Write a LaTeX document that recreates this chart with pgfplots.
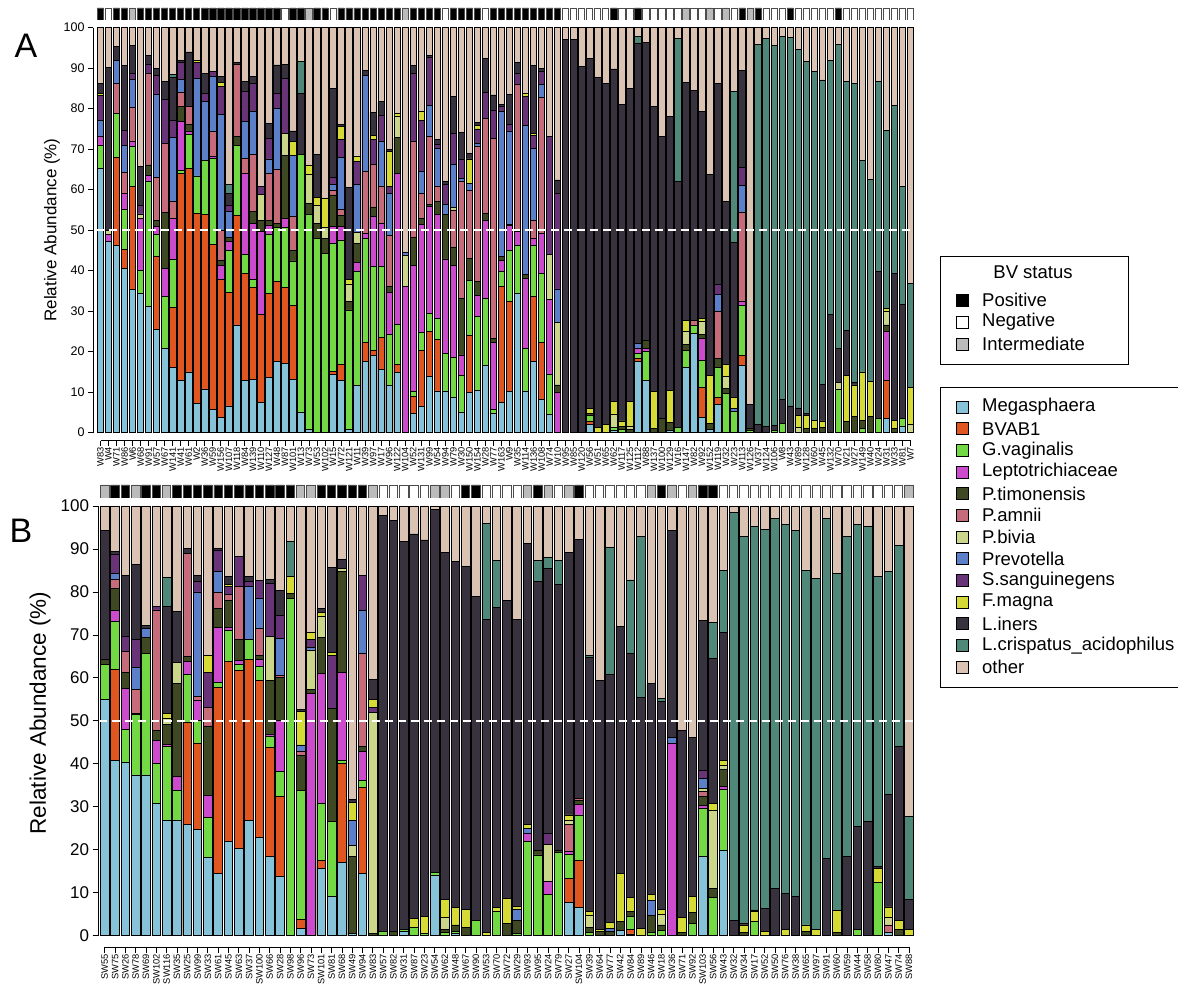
\documentclass[border=0pt]{standalone}
\usepackage{fontspec}
\setmainfont{Liberation Sans}
\usepackage{pgfplots}
\pgfplotsset{compat=1.18}
\definecolor{cMeg}{HTML}{86C3D8}
\definecolor{cBV}{HTML}{DF5620}
\definecolor{cGV}{HTML}{72D945}
\definecolor{cLep}{HTML}{CC4BCC}
\definecolor{cPtim}{HTML}{3E4923}
\definecolor{cPam}{HTML}{C66B7A}
\definecolor{cPbiv}{HTML}{CCD68B}
\definecolor{cPrev}{HTML}{5B80C9}
\definecolor{cSsang}{HTML}{693477}
\definecolor{cFmag}{HTML}{D6DA37}
\definecolor{cLin}{HTML}{38323F}
\definecolor{cLcris}{HTML}{4F8878}
\definecolor{cOther}{HTML}{DAC3B3}
\definecolor{cInt}{HTML}{BBBBBB}
\newcommand\fxA{\fontsize{9.3}{10}\selectfont}
\newcommand\fyA{\fontsize{12.5}{14}\selectfont}
\newcommand\fyB{\fontsize{17}{19}\selectfont}
\newcommand\flg{\fontsize{18.5}{21}\selectfont}
\pgfplotsset{
  bA/.style={ybar, bar width=6.5pt, bar shift=0pt, draw=black, line width=0.8pt, fill=#1},
  bB/.style={ybar, bar width=8.6pt, bar shift=0pt, draw=black, line width=0.8pt, fill=#1},
  sA/.style={ybar, bar width=6.3pt, bar shift=0pt, draw=black!70, line width=0.8pt, fill=#1},
  sB/.style={ybar, bar width=8.4pt, bar shift=0pt, draw=black!70, line width=0.8pt, fill=#1},
}
\begin{document}
\begin{tikzpicture}[x=1pt,y=1pt]
\useasboundingbox (0,0) rectangle (1178,987);
% ---------------- Panel A -----------------
\begin{axis}[
  at={(93pt,546.3pt)}, anchor=south west, scale only axis,
  width=821.5pt, height=413pt,
  xmin=0.065, xmax=102.5, ymin=-1.975, ymax=100,
  axis x line*=bottom, axis y line*=left,
  x axis line style={-, line width=0.8pt, shorten <=7.5pt, shorten >=4pt},
  y axis line style={-, line width=0.8pt, shorten <=8pt},
  tick align=outside, major tick length=5pt,
  every tick/.append style={line width=0.8pt, black},
  xtick={1,...,102},
  xticklabels={W83,W4,W71,W86,W6,W68,W91,W57,W67,W141,W41,W61,W2,W36,W59,W156,W107,W118,W84,W139,W110,W127,W48,W87,W101,W13,W73,W53,W102,W15,W72,W121,W11,W39,W97,W17,W96,W122,W104,W52,W131,W99,W54,W94,W79,W30,W150,W154,W28,W77,W163,W9,W35,W114,W136,W108,W74,W10,W95,W85,W120,W56,W51,W65,W62,W117,W125,W112,W88,W137,W100,W129,W16,W147,W82,W92,W152,W119,W32,W23,W113,W126,W37,W124,W106,W8,W43,W89,W128,W60,W45,W132,W70,W21,W27,W149,W40,W24,W31,W33,W81,W7},
  xticklabel style={font=\fxA, rotate=90, anchor=east, inner sep=1pt},
  ytick={0,10,...,100},
  yticklabel style={font=\fyA},
  /pgf/number format/assume math mode=true,
  scaled ticks=false,
]
\addplot[bA=cOther] coordinates {(1,100)(2,100)(3,100)(4,100)(5,100)(6,100)(7,100)(8,100)(9,100)(10,100)(11,100)(12,100)(13,100)(14,100)(15,100)(16,100)(17,100)(18,100)(19,100)(20,100)(21,100)(22,100)(23,100)(24,100)(25,100)(26,100)(27,100)(28,100)(29,100)(30,100)(31,100)(32,100)(33,100)(34,100)(35,100)(36,100)(37,100)(38,100)(39,100)(40,100)(41,100)(42,100)(43,100)(44,100)(45,100)(46,100)(47,100)(48,100)(49,100)(50,100)(51,100)(52,100)(53,100)(54,100)(55,100)(56,100)(57,100)(58,100)(59,100)(60,100)(61,100)(62,100)(63,100)(64,100)(65,100)(66,100)(67,100)(68,100)(69,100)(70,100)(71,100)(72,100)(73,100)(74,100)(75,100)(76,100)(77,100)(78,100)(79,100)(80,100)(81,100)(82,100)(83,100)(84,100)(85,100)(86,100)(87,100)(88,100)(89,100)(90,100)(91,100)(92,100)(93,100)(94,100)(95,100)(96,100)(97,100)(98,100)(99,100)(100,100)(101,100)(102,100)};
\addplot[bA=cLcris] coordinates {(10,88.5)(17,61.3)(26,91.6)(68,97.8)(73,97.4)(80,84.2)(83,95.9)(84,97.4)(85,95.6)(86,97.8)(87,97.5)(88,94.7)(89,91.6)(90,89.3)(91,87.1)(92,91.8)(93,95.9)(94,86.7)(95,86.3)(96,67.3)(97,62.6)(98,86.8)(99,74.7)(100,80.9)(101,60.7)(102,36.9)};
\addplot[bA=cLin] coordinates {(1,86.3)(2,90.1)(3,95.3)(4,90.6)(5,95.6)(6,65.8)(7,93.1)(8,90)(9,86.7)(10,87.7)(11,92)(12,94)(14,88.7)(16,88)(17,59.1)(18,91.4)(19,86.8)(20,88)(22,76.4)(23,90.8)(24,91)(25,74.5)(26,83.8)(28,68.7)(30,85)(31,76.2)(32,60.5)(34,89.5)(35,79.1)(36,81.7)(37,70)(40,90.6)(42,93.2)(43,72.5)(44,62.1)(45,83)(46,74.1)(47,69)(48,76.5)(49,92.4)(50,83.4)(51,81.1)(52,83.5)(53,91.4)(55,90.6)(56,90)(58,62.4)(59,97.1)(60,97.2)(61,90.4)(62,92.4)(63,87.7)(64,86.3)(65,89.8)(66,81.1)(67,84.9)(68,96.1)(69,96.4)(70,80.5)(71,73.1)(72,78)(73,62.1)(74,86.5)(75,84.6)(76,79.3)(77,63.8)(78,86.3)(79,57)(80,47)(81,89.5)(82,7)(83,2)(84,1.5)(85,1.7)(86,8.3)(87,6.6)(88,6.1)(89,4.8)(91,11.9)(92,29.2)(93,20.9)(94,25.2)(95,12.3)(98,39.8)(100,39.3)(101,31.7)};
\addplot[bA=cFmag] coordinates {(1,83.8)(13,91.9)(16,86.5)(25,72)(27,65.9)(28,58)(29,57.9)(31,75.6)(32,37.9)(33,68.1)(35,73.3)(37,69.5)(38,78.8)(41,79.4)(47,67.6)(48,75.8)(54,83.8)(55,73.9)(62,6)(63,1.2)(64,2)(65,7.8)(66,2.9)(67,7.8)(70,10.1)(72,10.5)(74,27.8)(76,28.2)(77,14.2)(79,16.9)(80,8.6)(88,4.2)(89,4.3)(90,3)(91,2.9)(94,14.2)(95,11.8)(96,15)(97,12.6)(99,30.6)(100,3)(102,11.1)};
\addplot[bA=cSsang] coordinates {(1,83.2)(4,74.6)(5,88.7)(6,56)(7,91)(8,88.3)(9,82.3)(10,77.2)(11,91.4)(13,91.4)(14,83.8)(15,89.1)(16,85.4)(17,56.2)(19,84.2)(20,86.2)(21,60.7)(22,72.7)(23,83.8)(24,87.5)(30,63)(31,72.3)(33,66.9)(35,72.3)(36,78.4)(37,60.7)(40,88.7)(41,77)(42,92.6)(43,71.2)(44,61.2)(45,73.9)(46,67.6)(48,75)(49,84)(50,79.7)(51,80.5)(52,76)(53,88.7)(54,83)(55,73.3)(56,89.3)(57,73.1)(58,59.1)(78,36.6)(81,65.4)};
\addplot[bA=cPrev] coordinates {(1,77)(3,92)(4,70.9)(5,87.3)(8,83.5)(10,72.9)(11,87.3)(13,87.5)(14,81.7)(15,87.9)(16,78.6)(17,54.7)(19,76.8)(20,79.3)(22,67.6)(23,80.1)(25,68.4)(30,61.3)(31,68)(33,61.3)(34,88.3)(36,72)(37,59.1)(39,44.5)(41,64.4)(42,80.9)(43,70.2)(44,56.4)(45,66.3)(46,62.7)(47,61.6)(48,71.4)(51,79.3)(52,74.5)(54,75.8)(55,70.2)(56,86)(58,35.5)(68,22)(78,34.2)(80,6)(81,61)};
\addplot[bA=cPbiv] coordinates {(2,50)(6,54)(21,58.8)(24,73.9)(27,63.8)(28,56)(29,50.6)(32,36.5)(33,49.5)(38,78)(39,43.7)(45,55.6)(57,44)(58,27.2)(65,4.5)(67,1.5)(74,24.9)(76,27.6)(79,13.8)(88,1.2)(93,12.3)(99,30)(102,2)};
\addplot[bA=cPam] coordinates {(3,86.2)(4,64.3)(5,80.2)(7,88.7)(8,63)(9,71.4)(10,57)(11,84)(12,80.5)(15,74.3)(16,50)(18,91)(19,67.7)(20,68.7)(22,64)(23,65)(25,53.3)(30,59.9)(31,55.2)(34,64.4)(35,66.3)(36,60.9)(37,48.6)(40,71.9)(41,59.1)(42,73.1)(43,60.7)(45,55)(46,62.1)(47,59.9)(48,70.6)(49,77.6)(50,72.7)(53,86)(55,52.3)(56,82.7)(75,27.8)(78,30)(81,54.4)};
\addplot[bA=cPtim] coordinates {(7,66.1)(8,52.5)(9,54.4)(11,80.5)(12,76)(16,42.6)(17,48.1)(18,73.1)(20,54.7)(21,52.3)(22,52.3)(23,51.7)(24,68.4)(25,44.9)(27,56.5)(28,51.7)(29,48)(30,58.7)(31,53.7)(32,32.5)(33,46.7)(35,55.6)(37,36)(38,72.8)(40,48.1)(41,52.9)(42,56.4)(43,57)(44,53.9)(45,45.7)(46,33.2)(47,43)(48,37.4)(49,54.2)(50,23.3)(51,43.5)(52,51.5)(54,39.1)(58,11.8)(62,4.7)(66,1.5)(67,0.8)(69,22.9)(70,1)(71,3.5)(72,2.5)(74,21.8)(76,24.2)(77,2.3)(78,18.4)(79,10.9)(82,1)(89,1)(90,1)(91,1.2)(94,2.7)(95,4)(96,3)(97,4)(99,26.6)(100,1)};
\addplot[bA=cLep] coordinates {(1,73.1)(2,49)(4,59.1)(5,71.9)(6,52.9)(7,63.5)(8,50.9)(9,40.6)(10,52.9)(11,76.8)(12,74.5)(15,68.2)(16,41.4)(17,47.2)(19,64)(20,51.7)(21,49.6)(22,51.3)(24,52.9)(30,50.9)(31,50.9)(33,42.1)(34,49.2)(35,53.3)(36,51.7)(37,34.7)(38,64)(39,36)(40,41.4)(41,51.4)(42,55.8)(43,53.9)(44,42.9)(45,41.2)(46,19.2)(48,33.8)(49,52.3)(50,22.3)(51,42.6)(52,51.1)(53,49.6)(54,38.1)(55,48)(56,49.2)(57,32.8)(58,10)(68,20.8)(69,20.8)(76,23.3)(81,32.3)(99,24.9)};
\addplot[bA=cGV] coordinates {(1,70.9)(3,78.8)(4,55.2)(5,70.6)(6,40)(7,62)(8,49)(9,33.6)(10,42.8)(11,64.7)(12,73.7)(13,63.4)(14,67.3)(15,67.7)(17,45.1)(18,70.9)(19,43.9)(20,37.9)(22,49)(23,50.6)(24,50.6)(25,42.4)(26,68.8)(27,53.9)(28,48)(29,44.3)(30,46.7)(31,47.6)(32,30.3)(33,39.8)(34,48)(35,41)(36,41)(37,24.3)(38,26.7)(40,10.1)(41,24.8)(42,29.5)(43,28.1)(44,19.6)(45,18.5)(46,14.2)(47,37.7)(48,28.6)(49,33.2)(50,5.8)(51,39.9)(52,44.9)(53,46.3)(54,20.8)(55,46.3)(56,39.3)(57,14.4)(62,4.2)(65,1.2)(66,0.8)(68,19.6)(69,20)(73,1.2)(74,20.4)(75,26.4)(76,17.9)(78,16)(79,9.7)(80,5.3)(81,31.4)(82,0.5)(85,0.5)(86,2.3)(93,10.7)(96,1)(98,3.5)(101,3.6)};
\addplot[bA=cBV] coordinates {(3,68)(4,45.3)(5,60.7)(8,43.5)(10,30.9)(11,63.9)(12,65.3)(13,54.2)(14,53.9)(15,46.5)(16,37.9)(17,34.7)(18,53.6)(19,39.3)(20,35.8)(21,29.2)(22,34.4)(23,37.3)(24,35.8)(25,31.4)(30,15.2)(31,16.9)(34,22.3)(35,20.4)(36,23.5)(38,16.9)(40,8.9)(41,20.4)(42,24.9)(43,23.1)(47,24.1)(51,36)(52,32.5)(55,33.6)(56,22.3)(62,2.9)(68,18.4)(76,11.1)(78,8.6)(81,19)(99,12.8)};
\addplot[bA=cMeg] coordinates {(1,65.3)(2,47.3)(3,46.2)(4,40.6)(5,35.4)(6,34.3)(7,31.1)(8,25.6)(9,20.8)(10,16)(11,13)(12,15)(13,7.2)(14,10.8)(15,5.8)(16,3.7)(17,6.6)(18,26.6)(19,13)(20,13.2)(21,7.4)(22,13.7)(23,17.5)(24,17.1)(25,13.2)(26,5)(27,0.9)(30,14.4)(31,13)(32,0.9)(33,11.6)(34,17.7)(35,19)(36,15.7)(37,11.6)(38,14.9)(40,4.8)(41,6.4)(42,13.8)(43,10.3)(44,10.3)(45,8.6)(46,5)(47,9.9)(48,10.5)(49,16.5)(50,4.8)(51,7.5)(52,10.1)(53,34.4)(54,10.3)(55,17.7)(56,8.3)(57,4.5)(62,2)(65,0.5)(68,17.7)(69,12.8)(72,0.5)(74,16)(75,24.5)(76,3.7)(77,0.9)(78,7)(81,16.5)(99,3.5)(101,1.6)};
\addplot[white, mark=none, line width=1.4pt, dash pattern=on 8pt off 5pt] coordinates {(0.5,50) (102.5,50)};
\end{axis}
% status A
\begin{axis}[at={(93pt,967pt)}, anchor=south west, scale only axis, width=821.5pt, height=12pt,
  xmin=0.065, xmax=102.5, ymin=0, ymax=1, hide axis]
\addplot[sA=black] coordinates {(1,1)(3,1)(4,1)(6,1)(7,1)(8,1)(9,1)(10,1)(11,1)(12,1)(13,1)(14,1)(15,1)(16,1)(17,1)(18,1)(19,1)(20,1)(21,1)(22,1)(23,1)(25,1)(26,1)(28,1)(29,1)(31,1)(32,1)(33,1)(34,1)(35,1)(36,1)(37,1)(38,1)(40,1)(41,1)(42,1)(43,1)(45,1)(46,1)(47,1)(48,1)(50,1)(51,1)(52,1)(53,1)(54,1)(55,1)(56,1)(57,1)(58,1)(65,1)(68,1)(81,1)(83,1)(87,1)(93,1)};
\addplot[sA=white] coordinates {(2,1)(24,1)(30,1)(44,1)(49,1)(59,1)(60,1)(61,1)(62,1)(63,1)(64,1)(66,1)(67,1)(69,1)(70,1)(71,1)(72,1)(73,1)(75,1)(76,1)(78,1)(80,1)(84,1)(85,1)(86,1)(88,1)(89,1)(90,1)(91,1)(92,1)(94,1)(95,1)(96,1)(97,1)(98,1)(99,1)(100,1)(101,1)(102,1)};
\addplot[sA=cInt] coordinates {(5,1)(27,1)(39,1)(74,1)(77,1)(79,1)(82,1)};
\end{axis}
% ---------------- Panel B -----------------
\begin{axis}[
  at={(98.6pt,40pt)}, anchor=south west, scale only axis,
  width=815.5pt, height=441pt,
  xmin=0.4, xmax=79.5, ymin=-2.63, ymax=100,
  axis x line*=bottom, axis y line*=left,
  x axis line style={-, line width=0.8pt, shorten <=6.2pt, shorten >=5.1pt},
  y axis line style={-, line width=0.8pt, shorten <=11.3pt},
  tick align=outside, major tick length=6pt,
  every tick/.append style={line width=0.8pt, black},
  xtick={1,...,79},
  xticklabels={SW55,SW75,SW26,SW78,SW69,SW102,SW116,SW35,SW25,SW99,SW33,SW61,SW45,SW63,SW37,SW100,SW66,SW28,SW98,SW96,SW73,SW101,SW81,SW68,SW49,SW94,SW83,SW57,SW82,SW31,SW87,SW23,SW54,SW62,SW48,SW67,SW90,SW53,SW70,SW72,SW29,SW93,SW95,SW24,SW79,SW27,SW104,SW39,SW64,SW77,SW42,SW84,SW89,SW46,SW18,SW36,SW71,SW92,SW103,SW56,SW43,SW32,SW34,SW17,SW52,SW50,SW76,SW38,SW65,SW97,SW91,SW60,SW59,SW44,SW58,SW80,SW47,SW74,SW88},
  xticklabel style={font=\fxA, rotate=90, anchor=east, inner sep=1pt},
  ytick={0,10,...,100},
  yticklabel style={font=\fyB},
  /pgf/number format/assume math mode=true,
  scaled ticks=false,
]
\addplot[bB=cOther] coordinates {(1,100)(2,100)(3,100)(4,100)(5,100)(6,100)(7,100)(8,100)(9,100)(10,100)(11,100)(12,100)(13,100)(14,100)(15,100)(16,100)(17,100)(18,100)(19,100)(20,100)(21,100)(22,100)(23,100)(24,100)(25,100)(26,100)(27,100)(28,100)(29,100)(30,100)(31,100)(32,100)(33,100)(34,100)(35,100)(36,100)(37,100)(38,100)(39,100)(40,100)(41,100)(42,100)(43,100)(44,100)(45,100)(46,100)(47,100)(48,100)(49,100)(50,100)(51,100)(52,100)(53,100)(54,100)(55,100)(56,100)(57,100)(58,100)(59,100)(60,100)(61,100)(62,100)(63,100)(64,100)(65,100)(66,100)(67,100)(68,100)(69,100)(70,100)(71,100)(72,100)(73,100)(74,100)(75,100)(76,100)(77,100)(78,100)(79,100)};
\addplot[bB=cLcris] coordinates {(7,83.4)(19,91.7)(38,96)(39,87.3)(43,87.4)(44,88)(45,87.4)(48,65.3)(50,90.4)(52,82.8)(53,93)(55,55.2)(60,72.8)(61,85.1)(62,98.4)(63,92.9)(64,95.2)(65,94.6)(66,97.1)(67,95.6)(68,94.4)(69,84.9)(70,83.2)(71,97.1)(72,84.3)(73,93)(74,95.6)(75,95.3)(76,83.7)(77,84.7)(78,90.9)(79,27.8)};
\addplot[bB=cLin] coordinates {(1,94.3)(2,89.4)(3,83.9)(4,86.5)(5,72.1)(7,76.6)(8,75.4)(9,90.1)(10,83.9)(12,90.1)(13,83.7)(15,83.7)(17,82.9)(18,80.3)(20,52.7)(22,76.2)(23,85.7)(24,87.6)(25,31.7)(27,59.7)(28,97.9)(29,96.6)(30,91.7)(31,93.5)(32,92.1)(33,99.1)(34,89.1)(35,87)(36,86)(37,79)(38,73.5)(39,76.4)(40,78)(41,73.6)(42,91.2)(43,82.4)(44,85.5)(45,81.8)(46,89.1)(47,92.2)(48,64.8)(49,59.3)(50,60.9)(51,71.9)(52,65.6)(53,55.5)(54,58.6)(55,54.5)(56,94.4)(57,47.7)(58,46.2)(59,73.3)(60,64.5)(61,70.5)(62,3.6)(63,2.8)(64,6)(65,6.4)(66,11)(67,9.9)(68,9.2)(71,18)(73,18.5)(74,25.4)(75,26.5)(76,16.2)(77,32.9)(78,44)(79,8.4)};
\addplot[bB=cFmag] coordinates {(7,51.7)(11,65.3)(13,81.8)(19,83.6)(20,52.1)(21,70.5)(22,75.2)(23,65.9)(25,31)(27,55)(31,4)(32,4.4)(34,8.5)(35,6.6)(36,6.1)(38,0.8)(39,6.6)(40,8.7)(41,6.9)(42,25.8)(46,28.1)(48,5.6)(49,1.4)(50,3)(51,14.4)(52,8.9)(53,1.7)(54,9.7)(55,6.1)(57,4.3)(58,9.2)(60,30.8)(61,40.8)(63,2.5)(64,5.6)(65,1)(67,1.5)(69,2.5)(70,1.5)(72,5.8)(76,15.6)(77,6.7)(78,3.5)(79,1.5)};
\addplot[bB=cSsang] coordinates {(2,88.8)(3,69.7)(4,69)(6,76.7)(10,82.4)(11,61.2)(12,89.6)(13,81.2)(14,88.2)(15,82.4)(16,82.6)(17,82)(18,74.6)(21,69)(23,65.3)(26,83.9)(27,53.1)(44,23.7)(59,38.4)};
\addplot[bB=cPrev] coordinates {(2,84.2)(4,62.5)(5,71.5)(10,80)(12,84.7)(15,81.2)(16,78.5)(18,69.2)(20,44.4)(21,67)(25,26.8)(26,75.6)(41,6.1)(42,25)(50,1.6)(54,8.1)(56,46.2)(59,36.6)};
\addplot[bB=cPbiv] coordinates {(7,50.6)(8,63.5)(17,69.7)(21,66.5)(22,74.4)(24,85.5)(25,20.9)(27,51.9)(34,4.3)(44,21.3)(46,26.8)(48,4.8)(55,5)(59,34.3)(60,29.2)(61,39.6)(77,4.2)};
\addplot[bB=cPam] coordinates {(2,82.9)(3,66.1)(4,57.3)(6,75.8)(9,89)(10,55.6)(11,53.1)(12,79.8)(13,79.5)(14,81.2)(16,71.5)(18,60.6)(20,42.8)(26,65.7)(46,25.8)(47,32)(59,33.5)(77,2.5)};
\addplot[bB=cPtim] coordinates {(1,64.2)(2,80.8)(3,61.2)(4,51.8)(5,69.4)(6,47.7)(7,49.2)(8,58.6)(9,64.9)(11,48.8)(12,76.2)(13,78)(14,69)(16,65.3)(17,59.3)(18,60.1)(19,79.7)(20,42)(21,57.3)(22,69.4)(23,52.9)(24,84.7)(25,18.5)(26,44.1)(27,0.5)(29,1)(34,1.5)(35,2.5)(36,2)(40,2.9)(41,3.5)(43,19.8)(45,19.8)(47,31.4)(48,2)(49,1)(50,1)(51,3.3)(52,5.6)(54,4.8)(55,2.5)(57,0.8)(58,5.4)(59,32.5)(60,11)(61,38.6)(63,0.8)(69,1)(72,0.8)(78,1.5)};
\addplot[bB=cLep] coordinates {(2,75.6)(3,57.6)(6,45.4)(7,44.6)(8,37)(9,63.8)(10,54.8)(11,32.7)(12,71.8)(13,71.8)(14,64)(16,64.3)(17,46.9)(18,50)(21,56.4)(22,61.1)(24,61.2)(26,42.8)(42,23.8)(44,12.6)(46,19.6)(47,30.6)(56,44.8)(59,30.4)(61,34.8)};
\addplot[bB=cGV] coordinates {(1,63.2)(2,73.1)(3,48)(4,51.4)(5,65.7)(6,40)(7,44)(8,33.9)(9,60.7)(10,50)(11,27.5)(12,58.9)(13,71.1)(14,63.2)(15,69)(16,62.6)(17,46.3)(18,38.3)(19,78.5)(20,33.9)(22,30.8)(23,26.5)(24,40.7)(26,36.1)(28,1)(30,1.5)(31,2)(32,0.5)(33,14.7)(34,0.8)(35,1)(37,3.5)(39,5.6)(41,0.6)(42,21.9)(43,18.8)(44,9.5)(45,19.3)(46,19)(47,28.1)(48,0.8)(52,4.4)(54,0.8)(55,1.3)(58,2.9)(59,29.6)(60,8.8)(61,34.1)(64,3.3)(74,1.5)(76,12.4)};
\addplot[bB=cBV] coordinates {(2,62)(9,49.6)(10,44.8)(12,57.8)(13,63.8)(14,61.8)(15,64.3)(16,59.3)(17,43.8)(18,32.4)(20,3.8)(22,17.6)(24,40)(26,34.5)(46,13.3)(47,17.5)(52,1.5)};
\addplot[bB=cMeg] coordinates {(1,55)(2,40.7)(3,40.3)(4,37.4)(5,37.4)(6,30.8)(7,26.9)(8,26.8)(9,25.8)(10,24.7)(11,18.2)(12,14.5)(13,22)(14,20.3)(15,26.9)(16,22.8)(17,18.4)(18,13.7)(20,1.7)(22,15.7)(23,9.1)(24,17)(25,0.5)(26,14.5)(30,1)(33,14.1)(35,0.5)(46,7.7)(47,6.6)(51,1.2)(52,0.4)(59,18.4)(61,19.8)(77,0.8)};
\addplot[white, mark=none, line width=1.4pt, dash pattern=on 8pt off 5pt] coordinates {(0.4,50) (79.5,50)};
\end{axis}
% status B
\begin{axis}[at={(98.6pt,489pt)}, anchor=south west, scale only axis, width=815.5pt, height=13pt,
  xmin=0.4, xmax=79.5, ymin=0, ymax=1, hide axis]
\addplot[sB=black] coordinates {(2,1)(3,1)(5,1)(6,1)(8,1)(9,1)(10,1)(11,1)(12,1)(13,1)(14,1)(15,1)(16,1)(17,1)(18,1)(19,1)(22,1)(23,1)(24,1)(25,1)(26,1)(36,1)(37,1)(43,1)(47,1)(55,1)(59,1)(60,1)};
\addplot[sB=white] coordinates {(28,1)(29,1)(30,1)(31,1)(32,1)(35,1)(38,1)(39,1)(40,1)(41,1)(45,1)(48,1)(49,1)(50,1)(51,1)(52,1)(53,1)(57,1)(61,1)(62,1)(63,1)(64,1)(65,1)(66,1)(67,1)(68,1)(69,1)(70,1)(71,1)(72,1)(73,1)(74,1)(75,1)(76,1)(77,1)(78,1)};
\addplot[sB=cInt] coordinates {(1,1)(4,1)(7,1)(20,1)(21,1)(27,1)(33,1)(34,1)(42,1)(44,1)(46,1)(54,1)(56,1)(58,1)(79,1)};
\end{axis}
% ---------------- labels -----------------
\node[font=\fontsize{34}{38}\selectfont] at (26,941) {A};
\node[font=\fontsize{34}{38}\selectfont] at (21,456) {B};
\node[rotate=90, font=\fontsize{17}{20}\selectfont] at (52,757) {Relative Abundance (\%)};
\node[rotate=90, font=\fontsize{22.5}{26}\selectfont] at (40,274) {Relative Abundance (\%)};
% ---------------- BV status legend -----------------
\draw[line width=1pt] (940,622) rectangle (1128,730);
\node[font=\flg] at (1033,715) {BV status};
\draw[fill=black, line width=0.8pt] (956,681) rectangle (968,693);
\node[font=\flg, anchor=west, inner sep=0pt] at (982,687) {Positive};
\draw[fill=white, line width=0.8pt] (956,659) rectangle (968,671);
\node[font=\flg, anchor=west, inner sep=0pt] at (982,665) {Negative};
\draw[fill=cInt, line width=0.8pt] (956,637) rectangle (968,649);
\node[font=\flg, anchor=west, inner sep=0pt] at (982,643) {Intermediate};
% ---------------- species legend -----------------
\draw[line width=1pt] (940,299) rectangle (1200,599);
\foreach \c/\t [count=\i from 0] in {cMeg/Megasphaera,cBV/BVAB1,cGV/G.vaginalis,cLep/Leptotrichiaceae,cPtim/P.timonensis,cPam/P.amnii,cPbiv/P.bivia,cPrev/Prevotella,cSsang/S.sanguinegens,cFmag/F.magna,cLin/L.iners,cLcris/L.crispatus\_acidophilus,cOther/other}{
  \pgfmathsetmacro\yy{580-\i*21.67}
  \draw[fill=\c, line width=0.8pt] (956,\yy-6) rectangle (968,\yy+6);
  \node[font=\flg, anchor=west, inner sep=0pt] at (982,\yy) {\t};
}
\end{tikzpicture}
\end{document}
